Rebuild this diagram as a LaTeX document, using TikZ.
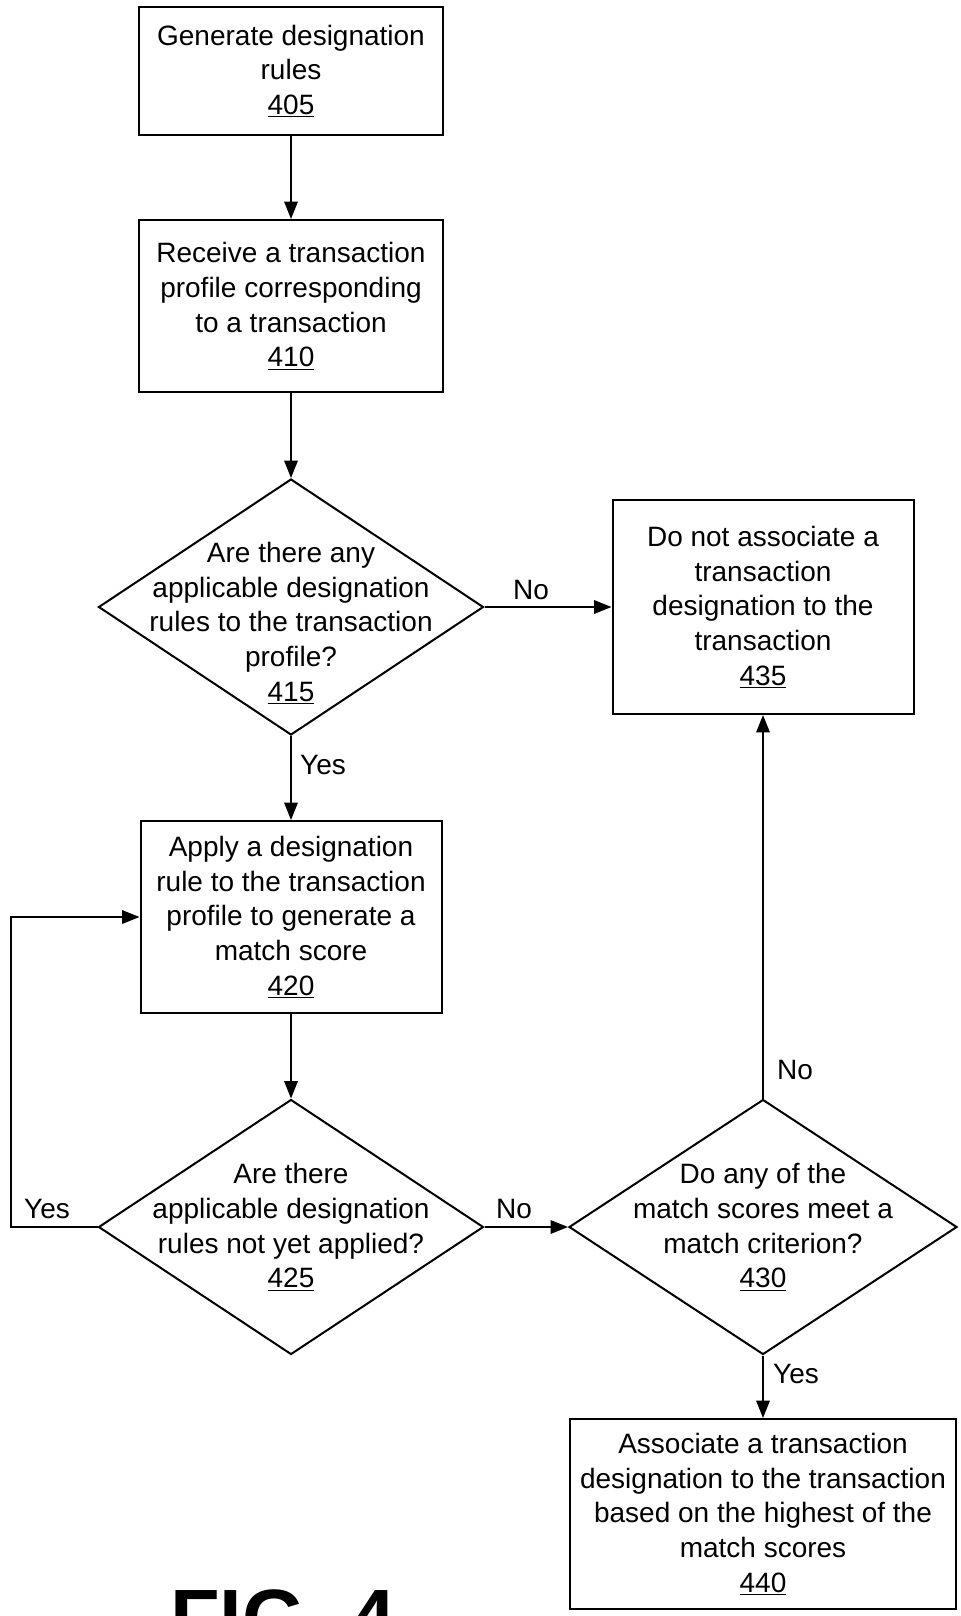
\documentclass[tikz,border=0pt]{standalone}
\usepackage{fontspec}
\setmainfont{Liberation Sans}
\usetikzlibrary{shapes.geometric,arrows.meta}
\begin{document}
\begin{tikzpicture}[x=0.75pt,y=-0.75pt,
  every node/.style={font=\fontsize{21}{26}\selectfont},
  box/.style={draw,line width=1.5pt,align=center,inner sep=0pt},
  dia/.style={draw,diamond,line width=1.5pt,inner sep=0pt},
  txt/.style={align=center,inner sep=0pt},
  arr/.style={line width=1.5pt,-{Triangle[length=13pt,width=10pt]}},
  lbl/.style={inner sep=0pt}]
\useasboundingbox (0,0) rectangle (960,1616);

\node[box,minimum width=228pt,minimum height=96pt] (b405) at (291,71)
  {Generate designation\\rules\\\underline{405}};
\node[box,minimum width=228pt,minimum height=129pt] (b410) at (291,306)
  {Receive a transaction\\profile corresponding\\to a transaction\\\underline{410}};
\node[dia,minimum width=288.75pt,minimum height=192pt] (d415) at (291,607) {};
\node[txt] (t415) at (291,623)
  {Are there any\\applicable designation\\rules to the transaction\\profile?\\\underline{415}};
\node[box,minimum width=225.75pt,minimum height=160.5pt] (b435) at (763,607)
  {Do not associate a\\transaction\\designation to the\\transaction\\\underline{435}};
\node[box,minimum width=225.75pt,minimum height=144pt] (b420) at (291,917)
  {Apply a designation\\rule to the transaction\\profile to generate a\\match score\\\underline{420}};
\node[dia,minimum width=288.75pt,minimum height=191.25pt] (d425) at (291,1227) {};
\node[txt] (t425) at (291,1227)
  {Are there\\applicable designation\\rules not yet applied?\\\underline{425}};
\node[dia,minimum width=291pt,minimum height=191.25pt] (d430) at (763,1227) {};
\node[txt] (t430) at (763,1227)
  {Do any of the\\match scores meet a\\match criterion?\\\underline{430}};
\node[box,minimum width=289.5pt,minimum height=142.5pt] (b440) at (763,1514)
  {Associate a transaction\\designation to the transaction\\based on the highest of the\\match scores\\\underline{440}};

\draw[arr] (b405.south) -- (b410.north);
\draw[arr] (b410.south) -- (d415.north);
\draw[arr] (d415.south) -- (b420.north);
\draw[arr] (d415.east) -- (b435.west);
\draw[arr] (b420.south) -- (d425.north);
\draw[arr] (d425.west) -- ++(-87,0) |- (b420.west);
\draw[arr] (d425.east) -- (d430.west);
\draw[arr] (d430.north) -- (b435.south);
\draw[arr] (d430.south) -- (b440.north);

\node[lbl] (l1) at (531,590) {No};
\node[lbl] (l2) at (323,765) {Yes};
\node[lbl] (l3) at (47,1209) {Yes};
\node[lbl] (l4) at (514,1209) {No};
\node[lbl] (l5) at (795,1070) {No};
\node[lbl] (l6) at (796,1374) {Yes};

\node[anchor=base west,inner sep=0pt,font=\fontsize{61}{61}\selectfont\bfseries] (fig) at (170,1646) {FIG. 4};
\end{tikzpicture}
\end{document}
